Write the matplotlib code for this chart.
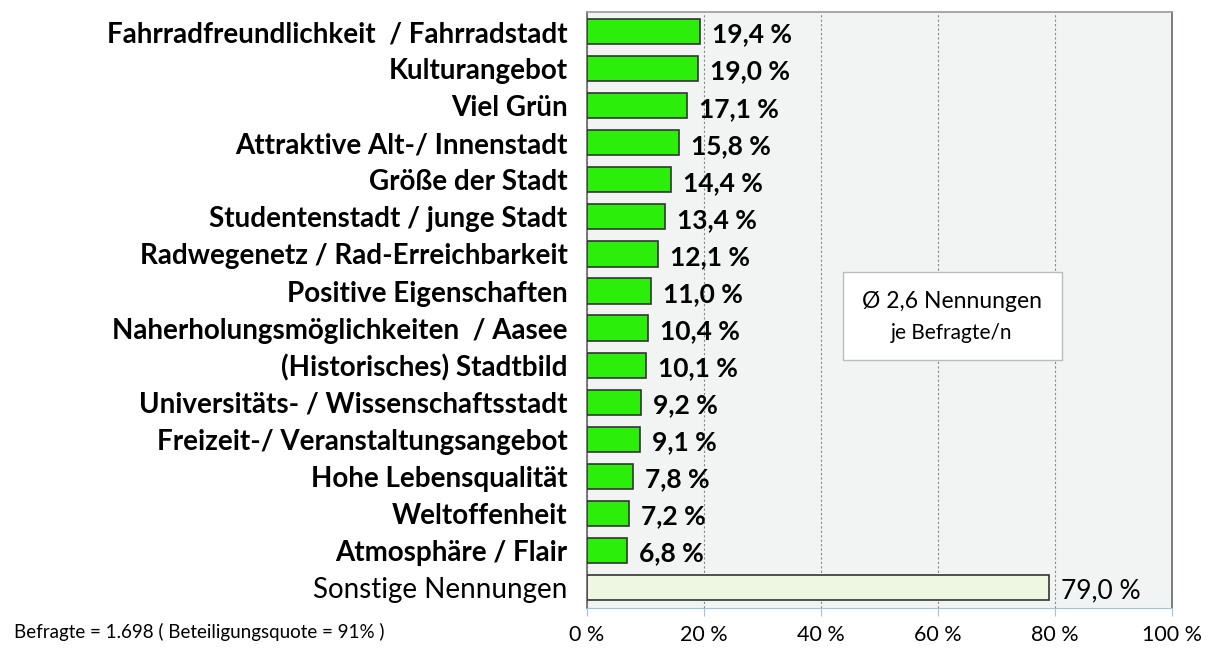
import matplotlib.pyplot as plt
from matplotlib.patches import Rectangle
from matplotlib.transforms import offset_copy

# Daten
kategorien = [
    'Fahrradfreundlichkeit  / Fahrradstadt',
    'Kulturangebot',
    'Viel Grün',
    'Attraktive Alt-/ Innenstadt',
    'Größe der Stadt',
    'Studentenstadt / junge Stadt',
    'Radwegenetz / Rad-Erreichbarkeit',
    'Positive Eigenschaften',
    'Naherholungsmöglichkeiten  / Aasee',
    '(Historisches) Stadtbild',
    'Universitäts- / Wissenschaftsstadt',
    'Freizeit-/ Veranstaltungsangebot',
    'Hohe Lebensqualität',
    'Weltoffenheit',
    'Atmosphäre / Flair',
    'Sonstige Nennungen',
]
werte = [19.4, 19.0, 17.1, 15.8, 14.4, 13.4, 12.1, 11.0, 10.4, 10.1, 9.2, 9.1, 7.8, 7.2, 6.8, 79.0]
xticks = [0, 20, 40, 60, 80, 100]

plt.rcParams['font.family'] = ['Lato', 'DejaVu Sans']

fig = plt.figure(figsize=(12.29, 6.48), dpi=100)
ax = fig.add_axes([0.4776, 0.0617, 0.476, 0.92])
ax.set_facecolor('#F2F4F4')

pos = list(range(len(kategorien)))
farben = ['#2BEE0A'] * (len(werte) - 1) + ['#EEF7E1']
ax.barh(pos, werte, height=0.68, color=farben, edgecolor='#333333', linewidth=1.2, zorder=3)

ax.set_xlim(0, 100)
ax.set_ylim(15.55, -0.53)
ax.set_xticks(xticks)
ax.set_xticklabels([f'{t} %' for t in xticks], fontsize=15.5)
ax.set_yticks(pos)
ax.set_yticklabels(kategorien, fontsize=20)
for i, lbl in enumerate(ax.get_yticklabels()):
    lbl.set_fontweight('normal' if i == len(kategorien) - 1 else 'bold')
ax.tick_params(axis='y', length=0, pad=14)
ax.tick_params(axis='x', length=6, color='#9DC3E6', pad=6)

ax.grid(axis='x', color='#888888', linestyle=(0, (2, 2)), linewidth=0.8, zorder=0)
for s in ['top', 'right', 'left']:
    ax.spines[s].set_color('#666666')
    ax.spines[s].set_linewidth(1.2)
ax.spines['top'].set_color('#999999')
ax.spines['bottom'].set_color('#9DC3E6')

# Werte an den Balken
for i, w in enumerate(werte):
    letzte = i == len(werte) - 1
    trans = offset_copy(ax.transData, fig=fig, x=12, y=-3, units='dots')
    ax.text(w, i, f'{w:.1f} %'.replace('.', ','), transform=trans,
            va='center', ha='left', fontsize=19,
            fontweight='normal' if letzte else 'bold', zorder=4)

# Infobox
ax.add_patch(Rectangle((0.4376, 0.416), 0.3744, 0.1478, transform=ax.transAxes,
                       facecolor='white', edgecolor='#BBBBBB', linewidth=1, zorder=5))
ax.text(0.624, 0.5134, 'Ø 2,6 Nennungen', transform=ax.transAxes, fontsize=16.5,
        ha='center', va='center', zorder=6)
ax.text(0.624, 0.4614, 'je Befragte/n', transform=ax.transAxes, fontsize=15,
        ha='center', va='center', zorder=6)

fig.text(0.011, 0.0247, 'Befragte = 1.698 ( Beteiligungsquote = 91% )', fontsize=13.5, va='center')

plt.savefig('out.png', dpi=100)
plt.close()
